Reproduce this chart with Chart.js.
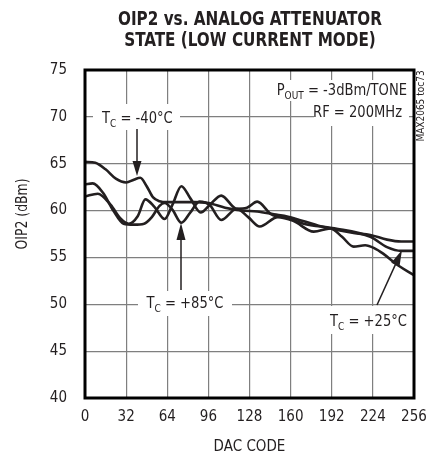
<!DOCTYPE html>
<html>
<head>
<meta charset="utf-8">
<title>OIP2 vs. Analog Attenuator State</title>
<script src="https://cdn.jsdelivr.net/npm/chart.js@4.4.1/dist/chart.umd.min.js"></script>
<style>
  html, body { margin: 0; padding: 0; background: #fff; }
  canvas { display: block; }
</style>
</head>
<body>
<canvas id="oip2Chart" width="443" height="457"></canvas>
<script>
// Datos: OIP2 (dBm) frente a código DAC
const xTicks = [0, 32, 64, 96, 128, 160, 192, 224, 256];
const yTicks = [40, 45, 50, 55, 60, 65, 70, 75];

const dacMinus40 = [0, 8, 16, 24, 32, 38, 43, 48, 53, 58, 64, 85, 96, 109, 122, 134, 147, 158, 184, 209, 222, 235, 246, 256];
const oipMinus40 = [65.2, 65.1, 64.4, 63.4, 63.0, 63.3, 63.5, 62.6, 61.4, 61.0, 60.9, 60.9, 60.8, 60.3, 60.0, 59.9, 59.6, 59.35, 58.3, 57.6, 57.4, 56.9, 56.7, 56.7];

const dacPlus25 = [0, 10, 20, 28, 34, 41, 47, 54, 62, 68, 75, 82, 90, 97, 106, 118, 126, 134, 145, 158, 170, 194, 222, 235, 246, 256];
const oipPlus25 = [61.5, 61.8, 60.6, 59.1, 58.6, 59.4, 61.2, 60.4, 59.1, 60.6, 62.6, 61.3, 59.8, 60.6, 61.6, 60.2, 60.3, 60.95, 59.6, 59.2, 58.6, 58.1, 57.2, 56.1, 55.7, 55.7];

const dacPlus85 = [0, 6, 14, 22, 30, 38, 46, 52, 58, 62, 68, 75, 82, 89, 97, 106, 118, 127, 136, 150, 162, 178, 191, 200, 209, 218, 225, 232, 242, 256];
const oipPlus85 = [62.8, 62.9, 61.9, 60.0, 58.6, 58.5, 58.6, 59.3, 60.5, 60.8, 60.1, 58.7, 59.8, 60.95, 60.6, 59.0, 60.2, 59.3, 58.3, 59.3, 58.9, 57.75, 58.1, 57.2, 56.15, 56.3, 56.0, 55.4, 54.3, 53.1];

const ink = "#231f20";
const narrow = "'Liberation Sans Narrow', 'DejaVu Sans Condensed', 'Arial Narrow', sans-serif";

function toPoints(xs, ys) {
  return xs.map((x, i) => ({ x: x, y: ys[i] }));
}

// Texto comprimido en horizontal para imitar una fuente condensada
function squeezeText(ctx, text, x, y, sx) {
  ctx.save();
  ctx.translate(x, y);
  ctx.scale(sx, 1);
  ctx.fillText(text, 0, 0);
  ctx.restore();
}

// Texto con subíndice: partes [texto, esSubindice]
function drawSubText(ctx, parts, x, y, align) {
  const sx = 0.91;
  const mainFont = "16px " + narrow;
  const subFont = "11px " + narrow;
  let total = 0;
  parts.forEach((p) => {
    ctx.font = p[1] ? subFont : mainFont;
    total += ctx.measureText(p[0]).width * sx;
  });
  let cx = x;
  if (align === "right") cx = x - total;
  if (align === "center") cx = x - total / 2;
  ctx.textAlign = "left";
  ctx.textBaseline = "alphabetic";
  parts.forEach((p) => {
    ctx.font = p[1] ? subFont : mainFont;
    squeezeText(ctx, p[0], cx, p[1] ? y + 4 : y, sx);
    cx += ctx.measureText(p[0]).width * sx;
  });
}

function whiteBox(ctx, x1, y1, x2, y2) {
  ctx.fillStyle = "#fff";
  ctx.fillRect(x1, y1, x2 - x1, y2 - y1);
  ctx.fillStyle = ink;
}

function arrow(ctx, x1, y1, x2, y2, headLen, headW) {
  const ang = Math.atan2(y2 - y1, x2 - x1);
  const bx = x2 - headLen * Math.cos(ang);
  const by = y2 - headLen * Math.sin(ang);
  ctx.strokeStyle = ink;
  ctx.lineWidth = 1.5;
  ctx.beginPath();
  ctx.moveTo(x1, y1);
  ctx.lineTo(bx, by);
  ctx.stroke();
  ctx.beginPath();
  ctx.moveTo(x2, y2);
  ctx.lineTo(bx + (headW / 2) * Math.sin(ang), by - (headW / 2) * Math.cos(ang));
  ctx.lineTo(bx - (headW / 2) * Math.sin(ang), by + (headW / 2) * Math.cos(ang));
  ctx.closePath();
  ctx.fill();
}

// Marco, título y rótulos de las curvas
const annotations = {
  id: "annotations",
  beforeDatasetsDraw(chart) {
    const ctx = chart.ctx;
    ctx.save();
    whiteBox(ctx, 93, 104, 180, 130);
    whiteBox(ctx, 268, 80, 409, 101);
    whiteBox(ctx, 314, 101, 409, 126);
    whiteBox(ctx, 138, 291, 232, 316);
    whiteBox(ctx, 326, 306, 408, 334);
    ctx.restore();
  },
  afterDraw(chart) {
    const ctx = chart.ctx;
    const a = chart.chartArea;
    ctx.save();
    ctx.fillStyle = ink;

    ctx.strokeStyle = "#000";
    ctx.lineWidth = 3;
    ctx.strokeRect(a.left, a.top, a.right - a.left, a.bottom - a.top);

    // título en dos líneas, ajustado al ancho del original
    ctx.textAlign = "center";
    ctx.textBaseline = "alphabetic";
    ctx.font = "bold 19px " + narrow;
    const w1 = ctx.measureText("OIP2 vs. ANALOG ATTENUATOR").width;
    const tsx = 264 / w1;
    squeezeText(ctx, "OIP2 vs. ANALOG ATTENUATOR", 250, 25, tsx);
    squeezeText(ctx, "STATE (LOW CURRENT MODE)", 250, 46, tsx);

    ctx.save();
    ctx.translate(23, 214);
    ctx.rotate(-Math.PI / 2);
    ctx.scale(0.92, 1);
    ctx.font = "15px " + narrow;
    ctx.textBaseline = "middle";
    ctx.fillText("OIP2 (dBm)", 0, 0);
    ctx.restore();

    ctx.save();
    ctx.translate(421, 106);
    ctx.rotate(-Math.PI / 2);
    ctx.font = "10px " + narrow;
    ctx.textAlign = "center";
    ctx.textBaseline = "middle";
    ctx.fillText("MAX2065 toc73", 0, 0);
    ctx.restore();

    drawSubText(ctx, [["T", false], ["C", true], [" = -40°C", false]], 102, 123, "left");
    drawSubText(ctx, [["P", false], ["OUT", true], [" = -3dBm/TONE", false]], 407, 95, "right");
    drawSubText(ctx, [["RF = 200MHz", false]], 402, 117, "right");
    drawSubText(ctx, [["T", false], ["C", true], [" = +85°C", false]], 185, 308, "center");
    drawSubText(ctx, [["T", false], ["C", true], [" = +25°C", false]], 330, 326, "left");

    arrow(ctx, 137, 129, 137, 176, 15, 9);
    arrow(ctx, 181, 290, 181, 223, 17, 9);
    arrow(ctx, 377, 305, 402, 250, 16, 9);
    ctx.restore();
  },
};

const lineStyle = {
  borderColor: ink,
  borderWidth: 2.6,
  pointRadius: 0,
  cubicInterpolationMode: "monotone",
  fill: false,
};

const chartCanvas = document.getElementById("oip2Chart");
new Chart(chartCanvas.getContext("2d"), {
  type: "line",
  data: {
    datasets: [
      Object.assign({ label: "TC = -40°C", data: toPoints(dacMinus40, oipMinus40) }, lineStyle),
      Object.assign({ label: "TC = +25°C", data: toPoints(dacPlus25, oipPlus25) }, lineStyle),
      Object.assign({ label: "TC = +85°C", data: toPoints(dacPlus85, oipPlus85) }, lineStyle),
    ],
  },
  options: {
    responsive: false,
    animation: false,
    devicePixelRatio: 1,
    layout: { padding: { top: 70, right: 29, left: 0, bottom: 0 } },
    plugins: {
      legend: { display: false },
      tooltip: { enabled: false },
    },
    scales: {
      x: {
        type: "linear",
        min: 0,
        max: 256,
        afterBuildTicks: (s) => { s.ticks = xTicks.map((v) => ({ value: v })); },
        afterFit: (s) => { s.height = 59; },
        border: { display: false },
        grid: { color: "#7f7f7f", lineWidth: 1.2, drawTicks: false },
        ticks: { color: ink, padding: 10, maxRotation: 0, font: { family: narrow, size: 15 } },
        title: { display: true, text: "DAC CODE", color: ink, padding: { top: 0, bottom: 1 }, font: { family: narrow, size: 15 } },
      },
      y: {
        type: "linear",
        min: 40,
        max: 75,
        afterBuildTicks: (s) => { s.ticks = yTicks.map((v) => ({ value: v })); },
        afterFit: (s) => { s.width = 85; },
        border: { display: false },
        grid: { color: "#7f7f7f", lineWidth: 1.2, drawTicks: false },
        ticks: { color: ink, padding: 18, font: { family: narrow, size: 15 } },
      },
    },
  },
  plugins: [annotations],
});
</script>
</body>
</html>
